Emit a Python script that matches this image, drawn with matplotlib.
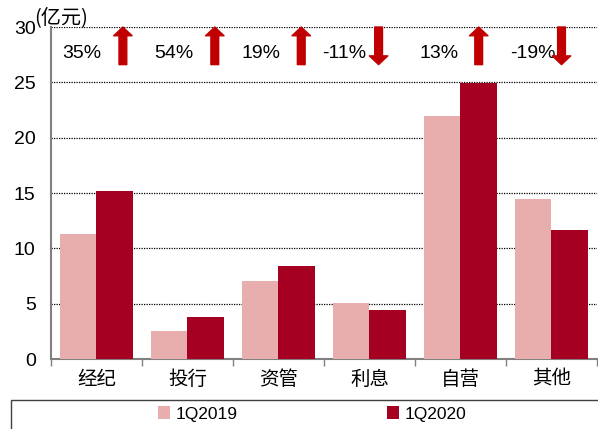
import matplotlib
matplotlib.use("Agg")
import matplotlib.pyplot as plt
from matplotlib.patches import FancyArrowPatch, Rectangle
import numpy as np

plt.rcParams['font.family'] = ['Liberation Sans', 'Noto Sans CJK SC', 'DejaVu Sans']

categories = ['经纪', '投行', '资管', '利息', '自营', '其他']
q2019 = [11.3, 2.5, 7.05, 5.05, 22.0, 14.5]
q2020 = [15.2, 3.8, 8.4, 4.45, 24.9, 11.7]
changes = ['35%', '54%', '19%', '-11%', '13%', '-19%']
directions = ['up', 'up', 'up', 'down', 'up', 'down']
series_names = ['1Q2019', '1Q2020']
yticks = [0, 5, 10, 15, 20, 25, 30]
unit_label = '(亿元)'

# layout offsets (styling)
text_dx = [-0.16, -0.15, -0.19, -0.28, -0.24, -0.21]
arrow_dx = [0.29, 0.30, 0.25, 0.10, 0.20, 0.11]

c_light = '#E8AEAD'
c_dark = '#A50021'
c_arrow = '#C00000'

fig = plt.figure(figsize=(5.98, 4.29), dpi=100)
ax = fig.add_axes([51/598, 70/429, 546/598, 332/429])

x = np.arange(len(categories))
w = 0.4
ax.bar(x - w/2, q2019, width=w, color=c_light, label=series_names[0], zorder=3)
ax.bar(x + w/2, q2020, width=w, color=c_dark, label=series_names[1], zorder=3)

ax.set_xlim(-0.5, len(categories) - 0.5)
ax.set_ylim(0, 30)
ax.set_yticks(yticks)
ax.set_yticklabels([str(v) for v in yticks], fontsize=14)
ax.yaxis.grid(True, linestyle=(0, (1, 1)), color='black', linewidth=0.9, zorder=0)
ax.tick_params(axis='y', length=0, pad=11)

ax.set_xticks(x)
ax.set_xticklabels(categories, fontsize=14, family=['Noto Sans CJK SC'])
ax.set_xticks(np.arange(len(categories) + 1) - 0.5, minor=True)
ax.tick_params(axis='x', which='major', length=0, pad=7)
ax.tick_params(axis='x', which='minor', length=5, color='#808080', width=1)

for s in ['top', 'right']:
    ax.spines[s].set_visible(False)
ax.spines['left'].set_color('#808080')
ax.spines['left'].set_linewidth(1.5)
ax.spines['bottom'].set_color('#808080')
ax.spines['bottom'].set_linewidth(1.5)

for i in range(len(categories)):
    ax.text(i + text_dx[i], 27.6, changes[i], ha='center', va='center', fontsize=14)
    if directions[i] == 'up':
        p0, p1 = (i + arrow_dx[i], 26.6), (i + arrow_dx[i], 30)
    else:
        p0, p1 = (i + arrow_dx[i], 30), (i + arrow_dx[i], 26.6)
    arr = FancyArrowPatch(p0, p1, arrowstyle='simple,head_length=0.45,head_width=0.95,tail_width=0.4',
                          mutation_scale=14, color=c_arrow, shrinkA=0, shrinkB=0, zorder=4,
                          clip_on=False)
    ax.add_patch(arr)

fig.text(34/598, 1 - 18/429, unit_label, fontsize=14.5, ha='left', va='center',
         family=['Noto Sans CJK SC'])

# legend box
fig.patches.append(Rectangle((11/598, -0.05), 1.0, (429 - 400)/429 + 0.05,
                             transform=fig.transFigure, fill=False, edgecolor='#404040',
                             linewidth=1.0))
handles, labels = ax.get_legend_handles_labels()
fig.legend(handles, labels, loc='center', bbox_to_anchor=(0.522, 1 - 414/429), ncol=2,
           frameon=False, fontsize=12.5, handlelength=0.7, handleheight=0.7,
           handletextpad=0.3, columnspacing=8.6)

fig.savefig('out.png', dpi=100)
